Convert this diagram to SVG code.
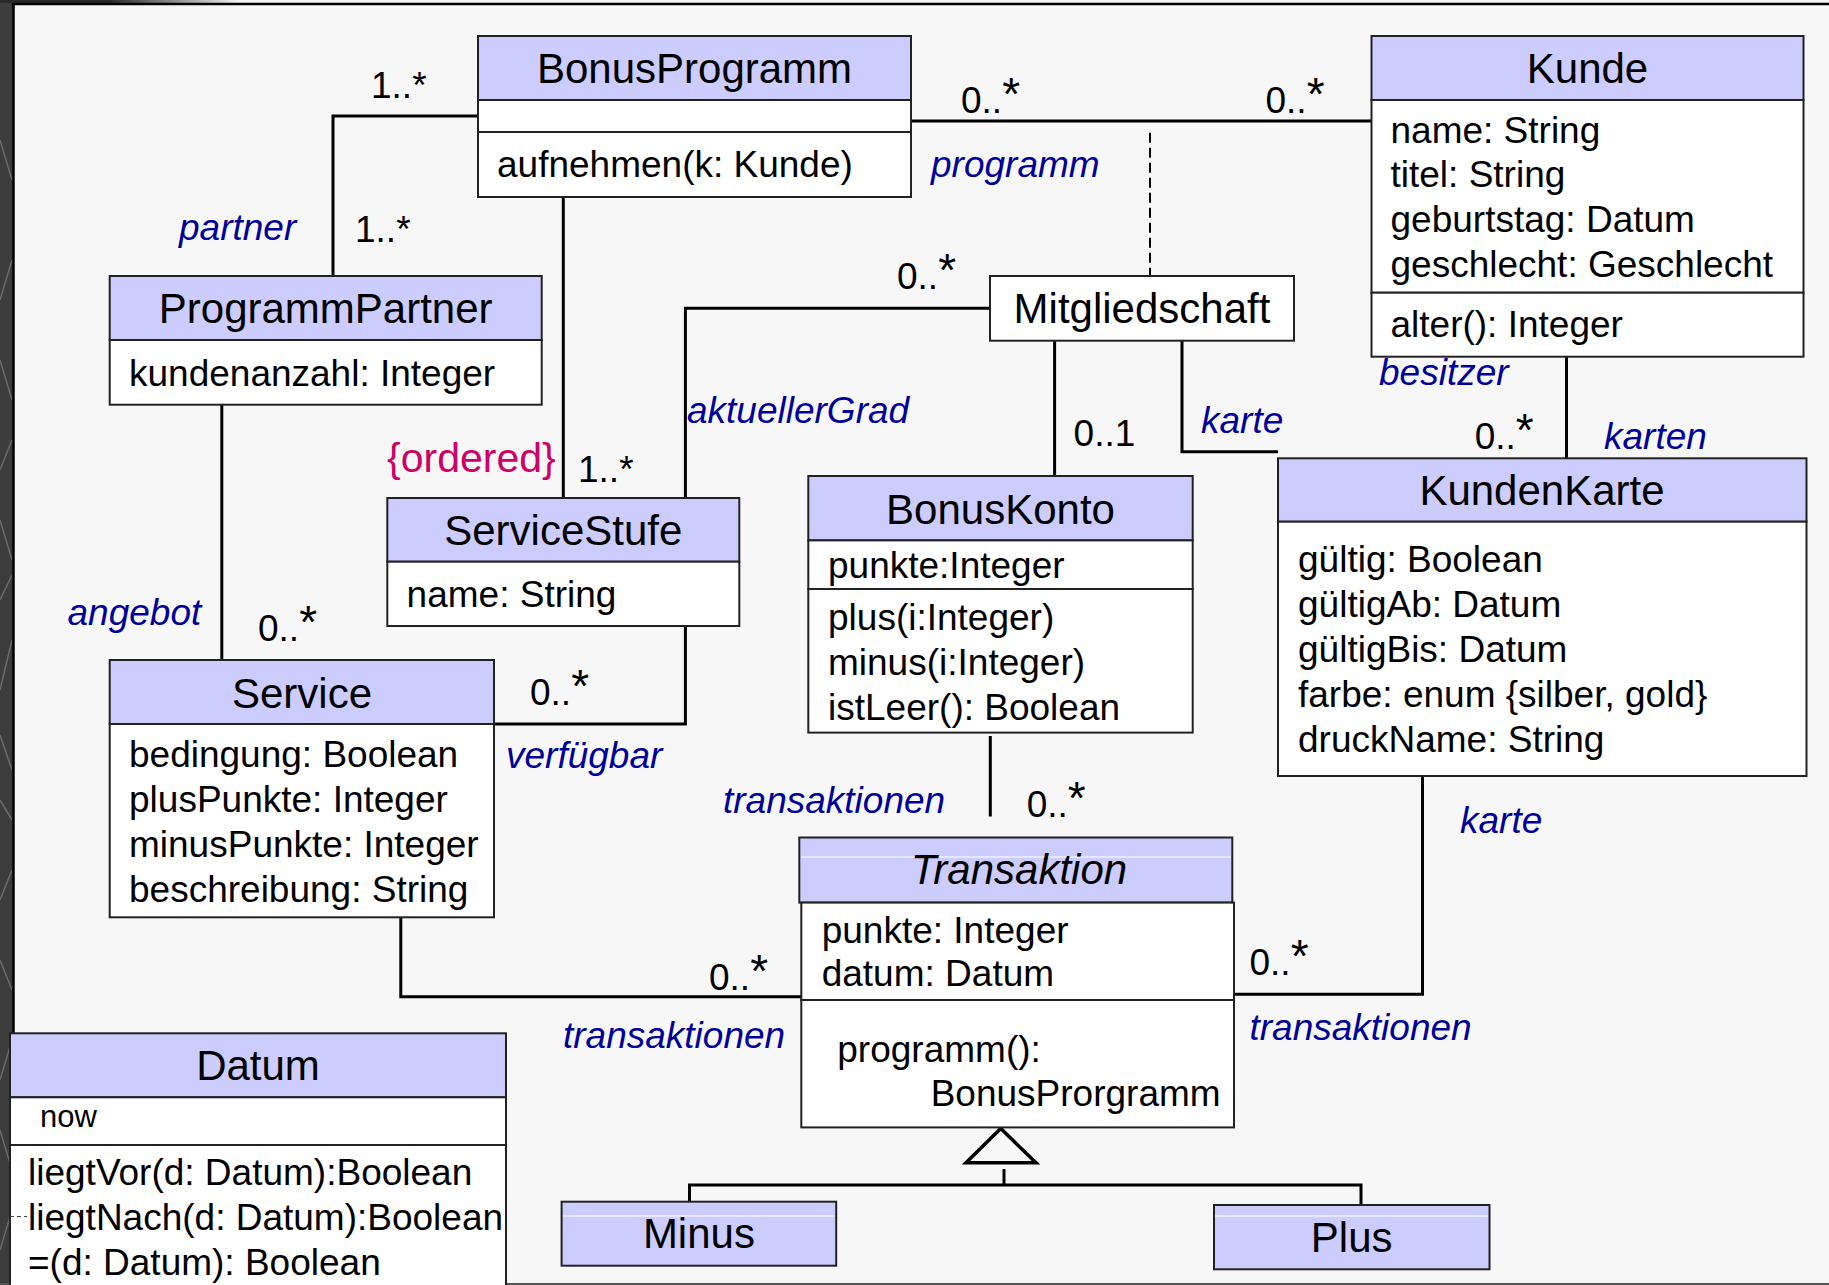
<svg xmlns="http://www.w3.org/2000/svg" width="1829" height="1285" viewBox="0 0 1829 1285">
  <defs>
    <linearGradient id="topFade" x1="0" y1="0" x2="1" y2="0">
      <stop offset="0" stop-color="#2a2a2a"/>
      <stop offset="0.06" stop-color="#2a2a2a"/>
      <stop offset="0.13" stop-color="#f2f2f2"/>
      <stop offset="1" stop-color="#f2f2f2"/>
    </linearGradient>
    <clipPath id="stripClip">
      <rect x="0" y="0" width="12" height="1285"/>
    </clipPath>
    <style>
      .hdr { fill: #ccccff; stroke: #222; stroke-width: 2; }
      .cmp { fill: #ffffff; stroke: #222; stroke-width: 2; }
      .gloss { stroke: #ffffff; stroke-width: 1.2; }
      .ttl { font-family: "Liberation Sans", Arial, sans-serif; font-size: 42px; text-anchor: middle; fill: #000; }
      .txt { font-family: "Liberation Sans", Arial, sans-serif; font-size: 37px; fill: #000; }
      .role { font-style: italic; fill: #000099; }
      .ord { font-size: 41px; fill: #cc0066; }
      .small { font-size: 31px; }
      .st { font-size: 46px; }
      .conn { fill: none; stroke: #000; stroke-width: 3; }
      .dash { fill: none; stroke: #000; stroke-width: 2; stroke-dasharray: 10 5; }
      .gen { fill: #f7f7f7; stroke: #000; stroke-width: 3.5; stroke-linejoin: miter; }
    </style>
  </defs>

  <!-- page background and frame -->
  <rect x="0" y="0" width="1829" height="1285" fill="#f7f7f7"/>
  <rect x="0" y="0" width="13" height="1285" fill="#3c3c3c"/>
  <g clip-path="url(#stripClip)" stroke="#8a8a8a" stroke-width="1.5" opacity="0.6" fill="none">
    <path d="M0 520 L12 560 M0 600 L12 575 M12 640 L0 690 M0 735 L12 770 M0 800 L12 820 M12 870 L0 900 M0 960 L12 990 M12 1040 L0 1080 M0 1130 L12 1170 M12 1210 L0 1250"/>
    <path d="M0 140 L12 180 M12 260 L0 300 M0 360 L12 400 M12 440 L0 470"/>
  </g>
  <rect x="0" y="0" width="1829" height="3" fill="url(#topFade)"/>
  <line x1="12" y1="4" x2="1829" y2="4" stroke="#000" stroke-width="2.5"/>
  <line x1="13.5" y1="3" x2="13.5" y2="1285" stroke="#000" stroke-width="2.5"/>
  <line x1="0" y1="1284" x2="1829" y2="1284" stroke="#555" stroke-width="2"/>

  <!-- associations, generalization and labels -->
  <g id="connectors">
    <polyline class="conn" points="478,116 333,116 333,276"/>
    <line class="conn" x1="221.8" y1="404.7" x2="221.8" y2="660"/>
    <line class="conn" x1="563.3" y1="197" x2="563.3" y2="498"/>
    <polyline class="conn" points="990,308.3 685.4,308.3 685.4,498"/>
    <line class="conn" x1="911" y1="121" x2="1371.5" y2="121"/>
    <line class="dash" x1="1150" y1="132.7" x2="1150" y2="276"/>
    <line class="conn" x1="1054.6" y1="340.7" x2="1054.6" y2="476"/>
    <polyline class="conn" points="1182,340.7 1182,451.7 1278,451.7"/>
    <line class="conn" x1="1566.5" y1="356.7" x2="1566.5" y2="458.3"/>
    <polyline class="conn" points="685.4,626 685.4,724 494,724"/>
    <line class="conn" x1="990.3" y1="736" x2="990.3" y2="816.5"/>
    <polyline class="conn" points="400.8,917.3 400.8,996.7 801.3,996.7"/>
    <polyline class="conn" points="1234,994.3 1422.5,994.3 1422.5,776"/>

    <polygon class="gen" points="1000.7,1128.5 966,1162.7 1036,1162.7"/>
    <line class="conn" x1="1004" y1="1169" x2="1004" y2="1185"/>
    <polyline class="conn" points="689.5,1201.7 689.5,1185 1361,1185 1361,1205"/>

    <text class="txt" x="371" y="98">1..*</text>
    <text class="txt" x="355" y="242">1..*</text>
    <text class="txt role" x="179" y="240">partner</text>
    <text class="txt ord" x="387" y="472">{ordered}</text>
    <text class="txt" x="578" y="482">1..*</text>
    <text class="txt role" x="687" y="423">aktuellerGrad</text>
    <text class="txt" x="897" y="289">0..<tspan class="st" dy="-3">*</tspan></text>
    <text class="txt" x="961" y="113">0..<tspan class="st" dy="-3">*</tspan></text>
    <text class="txt" x="1265.5" y="113">0..<tspan class="st" dy="-3">*</tspan></text>
    <text class="txt role" x="931" y="177">programm</text>
    <text class="txt" x="1073.6" y="446">0..1</text>
    <text class="txt role" x="1201" y="433">karte</text>
    <text class="txt role" x="1379" y="385">besitzer</text>
    <text class="txt" x="1474.7" y="449">0..<tspan class="st" dy="-3">*</tspan></text>
    <text class="txt role" x="1604" y="449">karten</text>
    <text class="txt role" x="67.5" y="625">angebot</text>
    <text class="txt" x="258" y="641">0..<tspan class="st" dy="-3">*</tspan></text>
    <text class="txt" x="530" y="705">0..<tspan class="st" dy="-3">*</tspan></text>
    <text class="txt role" x="506" y="768">verfügbar</text>
    <text class="txt role" x="723" y="813">transaktionen</text>
    <text class="txt" x="1026.7" y="817">0..<tspan class="st" dy="-3">*</tspan></text>
    <text class="txt role" x="1460" y="833">karte</text>
    <text class="txt" x="709" y="990">0..<tspan class="st" dy="-3">*</tspan></text>
    <text class="txt role" x="563" y="1048">transaktionen</text>
    <text class="txt" x="1249.5" y="975">0..<tspan class="st" dy="-3">*</tspan></text>
    <text class="txt role" x="1249.5" y="1040">transaktionen</text>
  </g>

  <g id="BonusProgramm">
    <rect class="hdr" x="478" y="36" width="433" height="64"/>
    <rect class="cmp" x="478" y="100" width="433" height="32"/>
    <rect class="cmp" x="478" y="132" width="433" height="65"/>
    <text class="ttl" x="694.5" y="83">BonusProgramm</text>
    <text class="txt" x="497" y="177">aufnehmen(k: Kunde)</text>
  </g>

  <g id="Kunde">
    <rect class="hdr" x="1371.5" y="36" width="432" height="64"/>
    <rect class="cmp" x="1371.5" y="100" width="432" height="192.7"/>
    <rect class="cmp" x="1371.5" y="292.7" width="432" height="64"/>
    <text class="ttl" x="1587.5" y="83">Kunde</text>
    <text class="txt" x="1390.5" y="142.5">name: String</text>
    <text class="txt" x="1390.5" y="187">titel: String</text>
    <text class="txt" x="1390.5" y="231.5">geburtstag: Datum</text>
    <text class="txt" x="1390.5" y="276.5">geschlecht: Geschlecht</text>
    <text class="txt" x="1390.5" y="337">alter(): Integer</text>
  </g>

  <g id="ProgrammPartner">
    <rect class="hdr" x="109.7" y="276" width="432" height="64"/>
    <rect class="cmp" x="109.7" y="340" width="432" height="64.7"/>
    <text class="ttl" x="325.7" y="323">ProgrammPartner</text>
    <text class="txt" x="129" y="385.5">kundenanzahl: Integer</text>
  </g>

  <g id="Mitgliedschaft">
    <rect class="cmp" x="990" y="276" width="304" height="64.7"/>
    <text class="ttl" x="1142" y="323">Mitgliedschaft</text>
  </g>

  <g id="ServiceStufe">
    <rect class="hdr" x="387.3" y="498" width="352" height="63.7"/>
    <rect class="cmp" x="387.3" y="561.7" width="352" height="64.3"/>
    <text class="ttl" x="563.3" y="545">ServiceStufe</text>
    <text class="txt" x="406.6" y="606.5">name: String</text>
  </g>

  <g id="BonusKonto">
    <rect class="hdr" x="808.3" y="476" width="384.4" height="64.4"/>
    <rect class="cmp" x="808.3" y="540.4" width="384.4" height="48.6"/>
    <rect class="cmp" x="808.3" y="589" width="384.4" height="143.6"/>
    <text class="ttl" x="1000.5" y="524">BonusKonto</text>
    <text class="txt" x="828" y="578">punkte:Integer</text>
    <text class="txt" x="828" y="629.5">plus(i:Integer)</text>
    <text class="txt" x="828" y="674.5">minus(i:Integer)</text>
    <text class="txt" x="828" y="719.5">istLeer(): Boolean</text>
  </g>

  <g id="KundenKarte">
    <rect class="hdr" x="1278" y="458.3" width="528.5" height="63.4"/>
    <rect class="cmp" x="1278" y="521.7" width="528.5" height="254.3"/>
    <text class="ttl" x="1542" y="505">KundenKarte</text>
    <text class="txt" x="1298" y="571.7">gültig: Boolean</text>
    <text class="txt" x="1298" y="616.7">gültigAb: Datum</text>
    <text class="txt" x="1298" y="661.7">gültigBis: Datum</text>
    <text class="txt" x="1298" y="706.7">farbe: enum {silber, gold}</text>
    <text class="txt" x="1298" y="751.7">druckName: String</text>
  </g>

  <g id="Service">
    <rect class="hdr" x="109.7" y="660" width="384.3" height="64"/>
    <rect class="cmp" x="109.7" y="724" width="384.3" height="193.3"/>
    <text class="ttl" x="302" y="707.7">Service</text>
    <text class="txt" x="129" y="766.7">bedingung: Boolean</text>
    <text class="txt" x="129" y="811.7">plusPunkte: Integer</text>
    <text class="txt" x="129" y="856.7">minusPunkte: Integer</text>
    <text class="txt" x="129" y="901.7">beschreibung: String</text>
  </g>

  <g id="Transaktion">
    <rect class="hdr" x="799.3" y="837.5" width="433" height="65.1"/>
    <line class="gloss" x1="801" y1="857" x2="1231" y2="857"/>
    <rect class="cmp" x="801.3" y="902.6" width="432.7" height="97.4"/>
    <rect class="cmp" x="801.3" y="1000" width="432.7" height="127.4"/>
    <text class="ttl" x="1019" y="884" font-style="italic">Transaktion</text>
    <text class="txt" x="821.7" y="942.6">punkte: Integer</text>
    <text class="txt" x="821.7" y="986">datum: Datum</text>
    <text class="txt" x="837.3" y="1062">programm():</text>
    <text class="txt" x="930.7" y="1105.6">BonusProrgramm</text>
  </g>

  <g id="Datum">
    <rect class="hdr" x="10" y="1033.3" width="496" height="64"/>
    <rect class="cmp" x="10" y="1097.3" width="496" height="47.7"/>
    <rect class="cmp" x="10" y="1145" width="496" height="145"/>
    <line x1="10" y1="1216.5" x2="27" y2="1216.5" stroke="#444" stroke-width="1" stroke-dasharray="4 3"/>
    <text class="ttl" x="258" y="1080">Datum</text>
    <text class="txt small" x="40" y="1126.7">now</text>
    <text class="txt" x="28" y="1185">liegtVor(d: Datum):Boolean</text>
    <text class="txt" x="28" y="1230">liegtNach(d: Datum):Boolean</text>
    <text class="txt" x="28" y="1275">=(d: Datum): Boolean</text>
  </g>

  <g id="Minus">
    <rect class="hdr" x="561.6" y="1201.7" width="274.6" height="64"/>
    <line class="gloss" x1="563" y1="1216" x2="835" y2="1216"/>
    <text class="ttl" x="698.9" y="1248.3">Minus</text>
  </g>

  <g id="Plus">
    <rect class="hdr" x="1214" y="1205" width="275.5" height="64.3"/>
    <line class="gloss" x1="1215" y1="1216" x2="1488" y2="1216"/>
    <text class="ttl" x="1351.7" y="1251.7">Plus</text>
  </g>
</svg>
